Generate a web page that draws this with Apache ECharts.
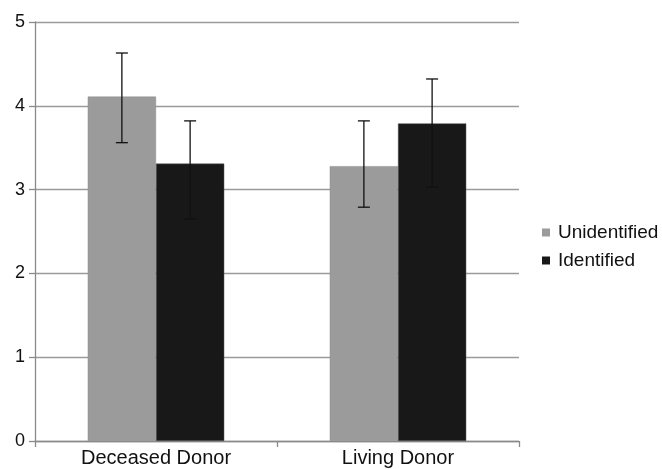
<!DOCTYPE html>
<html>
<head>
<meta charset="utf-8">
<script src="https://cdn.jsdelivr.net/npm/echarts@6/dist/echarts.min.js"></script>
<style>html,body{margin:0;padding:0;background:#fff}#c{width:662px;height:469px}</style>
</head>
<body>
<div id="c"></div>
<script>
var categories = ['Deceased Donor', 'Living Donor'];
var seriesNames = ['Unidentified', 'Identified'];
var unidentified = [4.11, 3.28];
var identified = [3.31, 3.79];
var unidentifiedErrLow = [3.56, 2.79];
var unidentifiedErrHigh = [4.63, 3.82];
var identifiedErrLow = [2.65, 3.03];
var identifiedErrHigh = [3.82, 4.32];
var yTicks = [0, 1, 2, 3, 4, 5];

var BAR_FRAC = 0.282;
function errSeries(low, high, side) {
  var data = low.map(function (l, i) { return [i, l, high[i]]; });
  return {
    type: 'custom',
    silent: true,
    z: 10,
    renderItem: function (params, api) {
      var band = api.size([1, 0])[0];
      var off = side * band * BAR_FRAC / 2;
      var lo = api.coord([api.value(0), api.value(1)]);
      var hi = api.coord([api.value(0), api.value(2)]);
      var x = lo[0] + off;
      var cw = 6;
      var st = { stroke: '#111', lineWidth: 1.3 };
      return {
        type: 'group',
        children: [
          { type: 'line', shape: { x1: x, y1: lo[1], x2: x, y2: hi[1] }, style: st },
          { type: 'line', shape: { x1: x - cw, y1: lo[1], x2: x + cw, y2: lo[1] }, style: st },
          { type: 'line', shape: { x1: x - cw, y1: hi[1], x2: x + cw, y2: hi[1] }, style: st }
        ]
      };
    },
    encode: { x: 0, y: [1, 2] },
    data: data
  };
}

var FONT = 'Liberation Sans, Arial, sans-serif';
var chart = echarts.init(document.getElementById('c'));
chart.setOption({
  animation: false,
  textStyle: { fontFamily: FONT },
  grid: { left: 35, right: 143, top: 22, bottom: 28, containLabel: false },
  legend: {
    orient: 'vertical',
    left: 537,
    top: 218,
    icon: 'rect',
    itemWidth: 8,
    itemHeight: 8,
    itemGap: 9,
    itemStyle: { borderWidth: 0 },
    data: seriesNames,
    textStyle: { fontSize: 19, color: '#111', fontFamily: FONT, padding: [0, 0, 0, 3] }
  },
  xAxis: {
    type: 'category',
    data: categories,
    axisLine: { lineStyle: { color: '#8a8a8a', width: 1.3 } },
    axisTick: { show: true, length: 6, alignWithLabel: false, lineStyle: { color: '#8a8a8a', width: 1.3 } },
    axisLabel: { fontSize: 20, color: '#111', margin: 7 },
    splitLine: { show: false }
  },
  yAxis: {
    type: 'value',
    min: yTicks[0],
    max: yTicks[yTicks.length - 1],
    interval: 1,
    axisLine: { show: true, lineStyle: { color: '#8a8a8a', width: 1.3 } },
    axisTick: { show: true, length: 6, lineStyle: { color: '#8a8a8a', width: 1.3 } },
    axisLabel: { fontSize: 18, color: '#111', margin: 10 },
    splitLine: { show: true, lineStyle: { color: '#9a9a9a', width: 1.3 } }
  },
  series: [
    {
      name: seriesNames[0], type: 'bar', data: unidentified,
      barWidth: (BAR_FRAC * 100) + '%', barGap: '0%',
      itemStyle: { color: '#9b9b9b', borderColor: '#8a8a8a', borderWidth: 0.5 }
    },
    {
      name: seriesNames[1], type: 'bar', data: identified,
      barWidth: (BAR_FRAC * 100) + '%', barGap: '0%',
      itemStyle: { color: '#181818', borderColor: '#555', borderWidth: 0.5 }
    },
    errSeries(unidentifiedErrLow, unidentifiedErrHigh, -1),
    errSeries(identifiedErrLow, identifiedErrHigh, 1)
  ]
});
</script>
</body>
</html>
